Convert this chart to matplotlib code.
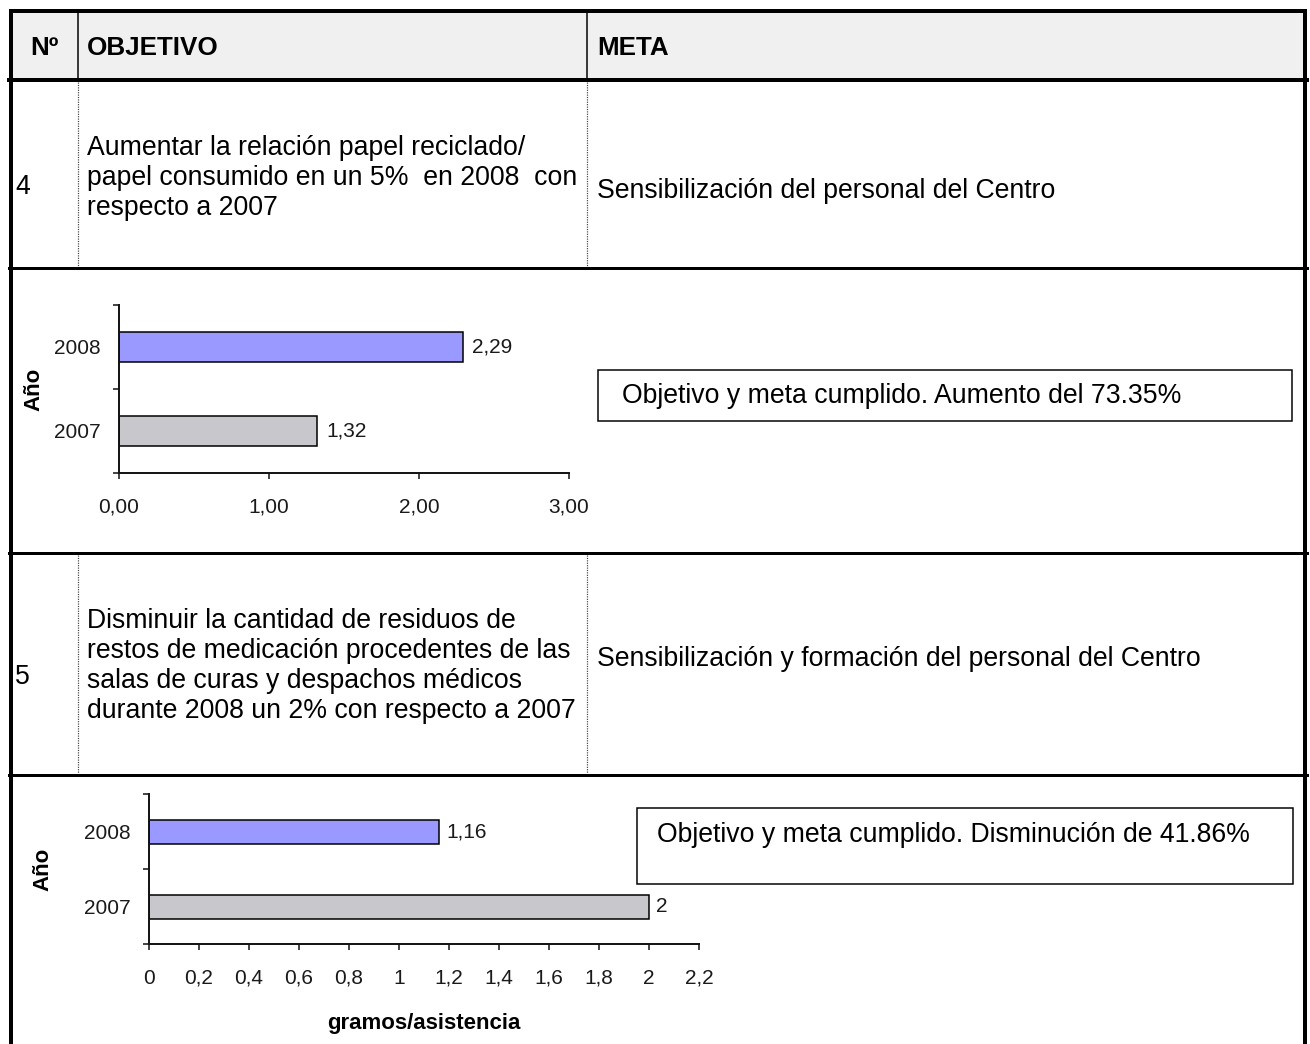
import matplotlib.pyplot as plt
from matplotlib.patches import Rectangle

plt.rcParams['font.family'] = ['Liberation Sans', 'DejaVu Sans']

# datos de los graficos
anios = ['2007', '2008']
papel_ratio = [1.32, 2.29]
residuos_g = [2.0, 1.16]
colores = ['#c8c7cc', '#9999ff']

ticks_papel = [0, 1, 2, 3]
ticks_residuos = [0, 0.2, 0.4, 0.6, 0.8, 1, 1.2, 1.4, 1.6, 1.8, 2, 2.2]

# textos de la tabla
cabecera = ['Nº', 'OBJETIVO', 'META']
objetivo_4 = ['Aumentar la relación papel reciclado/',
              'papel consumido en un 5%  en 2008  con',
              'respecto a 2007']
meta_4 = 'Sensibilización del personal del Centro'
objetivo_5 = ['Disminuir la cantidad de residuos de',
              'restos de medicación procedentes de las',
              'salas de curas y despachos médicos',
              'durante 2008 un 2% con respecto a 2007']
meta_5 = 'Sensibilización y formación del personal del Centro'
resultado_4 = 'Objetivo y meta cumplido. Aumento del 73.35%'
resultado_5 = 'Objetivo y meta cumplido. Disminución de 41.86%'

W, H = 1310, 1044
fig = plt.figure(figsize=(W / 100, H / 100), dpi=100)

# capa de fondo en pixeles para la tabla
bg = fig.add_axes([0, 0, 1, 1], zorder=0)
bg.set_xlim(0, W)
bg.set_ylim(H, 0)
bg.axis('off')

px = 0.72  # pixel -> punto
fs_cab = 18.7
fs = 19.2

bg.add_patch(Rectangle((11, 12), 1294, 66, fc='#f0f0f0', ec='none'))

# bordes
bg.plot([9, 1307], [11, 11], color='black', lw=4 * px, solid_capstyle='butt')
bg.plot([11, 11], [9, H], color='black', lw=4 * px, solid_capstyle='butt')
bg.plot([1305, 1305], [9, H], color='black', lw=4 * px, solid_capstyle='butt')
bg.plot([9, 1307], [80, 80], color='black', lw=4 * px)
for y in [268, 553, 775]:
    bg.plot([9, 1307], [y, y], color='black', lw=3 * px)

# separadores de columnas
for x in [78, 587]:
    bg.plot([x, x], [12, 78], color='black', lw=1.5 * px)
    bg.plot([x, x], [82, 266], color='#444444', lw=1.2 * px, ls=(0, (1, 1)))
    bg.plot([x, x], [555, 773], color='#444444', lw=1.2 * px, ls=(0, (1, 1)))

# cabecera
bg.text(44, 48, cabecera[0], fontsize=fs_cab, fontweight='bold', ha='center', va='center')
bg.text(87, 48, cabecera[1], fontsize=fs_cab, fontweight='bold', ha='left', va='center')
bg.text(597, 48, cabecera[2], fontsize=fs_cab, fontweight='bold', ha='left', va='center')

# fila 4
bg.text(15, 194, '4', fontsize=fs, va='baseline')
for i, linea in enumerate(objetivo_4):
    bg.text(87, 155 + 30 * i, linea, fontsize=fs, va='baseline')
bg.text(597, 198, meta_4, fontsize=fs, va='baseline')

# fila 5
bg.text(15, 684, '5', fontsize=fs, va='baseline')
for i, linea in enumerate(objetivo_5):
    bg.text(87, 628 + 30 * i, linea, fontsize=fs, va='baseline')
bg.text(597, 666, meta_5, fontsize=fs, va='baseline')

# cuadros de resultado
bg.add_patch(Rectangle((598, 370), 694, 51, fc='white', ec='black', lw=1.5 * px))
bg.text(622, 396, resultado_4, fontsize=fs, va='center')
bg.add_patch(Rectangle((637, 808), 656, 76, fc='white', ec='black', lw=1.5 * px))
bg.text(657, 835, resultado_5, fontsize=fs, va='center')


def grafico(rect, valores, ticks, etiquetas_x, etiquetas_val, alto, pad_val, pad_ylab, xlabel=None):
    ax = fig.add_axes(rect, zorder=1)
    ax.set_facecolor('none')
    ax.barh([0.5, 1.5], valores, height=alto, color=colores, edgecolor='black', linewidth=1.1)
    ax.set_xlim(ticks[0], ticks[-1])
    ax.set_ylim(0, 2)
    ax.set_xticks(ticks)
    ax.set_xticklabels(etiquetas_x)
    ax.set_yticks([0, 1, 2])
    ax.set_yticklabels([])
    ax.set_yticks([0.5, 1.5], minor=True)
    ax.set_yticklabels(anios, minor=True)
    for s in ['top', 'right']:
        ax.spines[s].set_visible(False)
    for s in ['left', 'bottom']:
        ax.spines[s].set_linewidth(1.4)
        ax.spines[s].set_color('#111111')
    ax.tick_params(axis='both', which='major', direction='out', length=4.3, width=1.1,
                   color='#111111', labelsize=15, labelcolor='#1a1a1a')
    ax.tick_params(axis='x', pad=24.5)
    for lab in ax.get_xticklabels():
        lab.set_verticalalignment('baseline')
    ax.tick_params(axis='y', which='minor', length=0, pad=13.5, labelsize=15, labelcolor='#1a1a1a')
    barras = ax.containers[0]
    ax.bar_label(barras, labels=etiquetas_val, padding=pad_val, fontsize=15, color='#1a1a1a')
    ax.set_ylabel('Año', fontsize=16, fontweight='bold', labelpad=pad_ylab)
    if xlabel:
        ax.set_xlabel(xlabel, fontsize=16, fontweight='bold', labelpad=18)
    return ax


def coma(v, dec=None):
    if dec is not None:
        return f'{v:.{dec}f}'.replace('.', ',')
    return f'{v:g}'.replace('.', ',')


grafico([119 / W, 1 - 473 / H, 450 / W, 168 / H], papel_ratio, ticks_papel,
        [coma(t, 2) for t in ticks_papel], [coma(v) for v in papel_ratio],
        0.35, 7, 6.5)
grafico([149 / W, 1 - 944 / H, 550 / W, 150 / H], residuos_g, ticks_residuos,
        [coma(t) for t in ticks_residuos], [coma(v) for v in residuos_g],
        0.32, 5, 21.5, xlabel='gramos/asistencia')

fig.savefig('out.png', dpi=100)
